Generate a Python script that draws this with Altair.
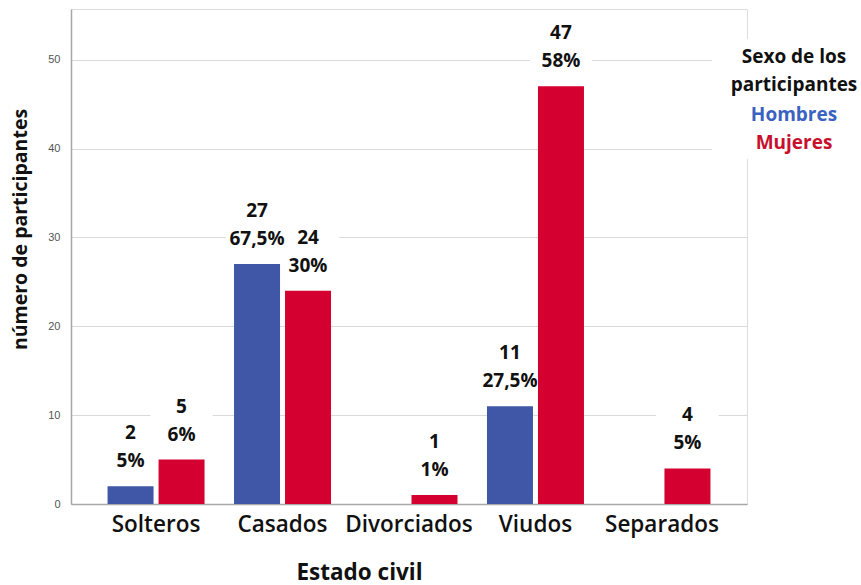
import altair as alt
import pandas as pd

estados = ["Solteros", "Casados", "Divorciados", "Viudos", "Separados"]
sexos = ["Hombres", "Mujeres"]
hombres = [2, 27, 0, 11, 0]
mujeres = [5, 24, 1, 47, 4]
pct_hombres = ["5%", "67,5%", "", "27,5%", ""]
pct_mujeres = ["6%", "30%", "1%", "58%", "5%"]
colores = ["#3F57A6", "#D40030"]
legend_colores = ["#3A62C0", "#C8102E"]
y_ticks = [0, 10, 20, 30, 40, 50]

rows = []
for i, e in enumerate(estados):
    rows.append({"estado": e, "sexo": "Hombres", "n": hombres[i], "pct": pct_hombres[i]})
    rows.append({"estado": e, "sexo": "Mujeres", "n": mujeres[i], "pct": pct_mujeres[i]})
df = pd.DataFrame(rows)
lab = df[df["n"] > 0].copy()
lab["nt"] = lab["n"].astype(str)

W, H = 676, 495
FONT = "Open Sans"

x = alt.X("estado:N", sort=estados,
          scale=alt.Scale(paddingInner=0.233, paddingOuter=0.289),
          axis=alt.Axis(title="Estado civil", labelAngle=0, labelFont=FONT, labelFontSize=22.5,
                        labelFontWeight=600, labelColor="#111", labelPadding=9, ticks=False,
                        domainColor="#a6a6a6", domainWidth=1.5,
                        titleFont=FONT, titleFontSize=22.5, titleFontWeight="bold",
                        titleColor="#111", titleX=288, titleY=68, titleBaseline="middle"))
xo = alt.XOffset("sexo:N", sort=sexos, scale=alt.Scale(paddingInner=0.098, paddingOuter=0))
y = alt.Y("n:Q", scale=alt.Scale(domain=[0, 55.7], nice=False),
          axis=alt.Axis(title="número de participantes", values=y_ticks, ticks=False,
                        labelFont="Liberation Sans", labelFontSize=11, labelColor="#555",
                        labelPadding=11, grid=True, gridColor="#d9d9d9", gridWidth=1.2,
                        domainColor="#a6a6a6", domainWidth=1.5,
                        titleFont=FONT, titleFontSize=19.5, titleFontWeight="bold",
                        titleColor="#111", titleX=-51, titleY=220, titleAngle=-90,
                        titleBaseline="middle"))
color = alt.Color("sexo:N", sort=sexos, scale=alt.Scale(domain=sexos, range=colores), legend=None)

base = alt.Chart(df)

boxes = alt.Chart(lab).mark_point(shape="square", filled=True, color="white", opacity=1,
                                  size=3900, yOffset=-39).encode(x=x, xOffset=xo, y=y)
bars = base.mark_bar().encode(x=x, xOffset=xo, y=y, color=color)
t_n = alt.Chart(lab).mark_text(font=FONT, fontSize=19, fontWeight="bold", color="#111",
                               baseline="middle", yOffset=-53).encode(x=x, xOffset=xo, y=y, text="nt:N")
t_p = alt.Chart(lab).mark_text(font=FONT, fontSize=19, fontWeight="bold", color="#111",
                               baseline="middle", yOffset=-25).encode(x=x, xOffset=xo, y=y, text="pct:N")

# legend (drawn as text)
leg_bg = alt.Chart(pd.DataFrame({"a": [0]})).mark_rect(color="white").encode(
    x=alt.value(641), x2=alt.value(690), y=alt.value(30), y2=alt.value(150))
title_lines = ["Sexo de los", "participantes"]
leg_layers = [leg_bg]
ys = [48, 76]
for t, yy in zip(title_lines, ys):
    leg_layers.append(alt.Chart(pd.DataFrame({"t": [t]})).mark_text(
        font=FONT, fontSize=19, fontWeight="bold", color="#111", baseline="middle", align="center"
    ).encode(x=alt.value(723), y=alt.value(yy), text="t:N"))
for s, c, yy in zip(sexos, legend_colores, [106, 134]):
    leg_layers.append(alt.Chart(pd.DataFrame({"t": [s]})).mark_text(
        font=FONT, fontSize=19, fontWeight="bold", color=c, baseline="middle", align="center"
    ).encode(x=alt.value(723), y=alt.value(yy), text="t:N"))

chart = alt.layer(boxes, bars, t_n, t_p, *leg_layers).properties(
    width=W, height=H,
    autosize=alt.AutoSizeParams(type="none"),
    padding={"left": 71, "top": 9, "right": 114, "bottom": 81},
).configure_view(stroke=None).configure(background="white")

chart.save("out.html", embed_options={"renderer": "svg", "actions": False})
